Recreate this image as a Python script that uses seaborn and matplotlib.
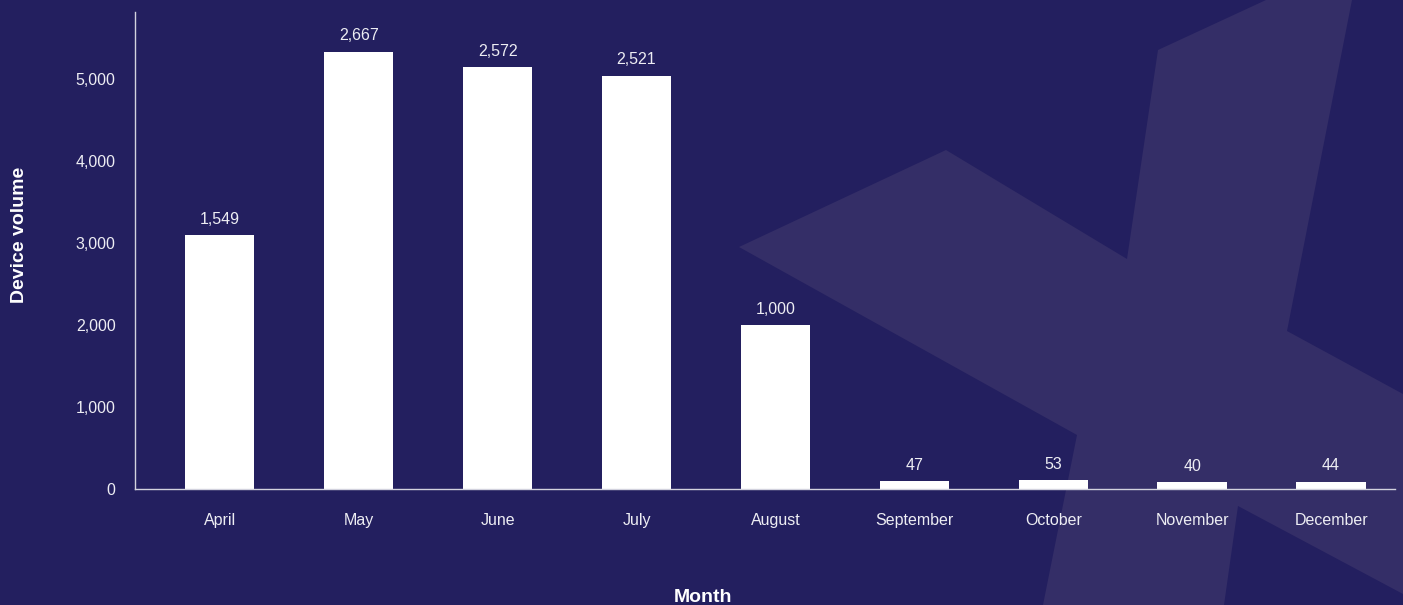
import matplotlib
matplotlib.use("Agg")
import matplotlib.pyplot as plt
from matplotlib.patches import Polygon
import seaborn as sns
import pandas as pd

# data
months = ["April", "May", "June", "July", "August",
          "September", "October", "November", "December"]
bar_heights = [3098, 5334, 5144, 5042, 2000, 94, 106, 80, 88]
bar_labels = ["1,549", "2,667", "2,572", "2,521", "1,000", "47", "53", "40", "44"]
y_ticks = [0, 1000, 2000, 3000, 4000, 5000]

bg = "#231F5F"
text_col = "#EDEDF3"
spine_col = "#D2D2DE"

sns.set_theme(style="white")
plt.rcParams["font.family"] = ["Liberation Sans", "DejaVu Sans"]

df = pd.DataFrame({"Month": months, "Volume": bar_heights})

fig = plt.figure(figsize=(14.03, 6.05), dpi=100, facecolor=bg)

# decorative watermark behind the chart (pixel coords of the 1403x605 canvas)
W, H = 1403, 605
shape_px = [(739, 247), (946, 150), (1127, 259), (1158, 50), (1266, 0), (1352, 0),
            (1287, 331), (1403, 394), (1403, 594), (1238, 506), (1224, 605),
            (1043, 605), (1077, 435)]
shape = Polygon([(x / W, 1 - y / H) for x, y in shape_px], closed=True,
                transform=fig.transFigure, facecolor="#342E67", edgecolor="none", zorder=-5)
fig.patches.append(shape)

ax = fig.add_axes([135 / W, 1 - 489 / H, 1260 / W, 477 / H])
ax.set_facecolor("none")
ax.set_zorder(2)

sns.barplot(data=df, x="Month", y="Volume", color="white", saturation=1,
            width=0.5, edgecolor="none", ax=ax)

for i, (h, lab) in enumerate(zip(bar_heights, bar_labels)):
    ax.annotate(lab, (i, h), xytext=(0, 6), textcoords="offset points",
                ha="center", va="bottom", color=text_col, fontsize=11.5)

ax.set_xlim(-0.61, 8.46)
ax.set_ylim(0, 5820)
ax.set_yticks(y_ticks)
ax.set_yticklabels([f"{v:,}" for v in y_ticks])
ax.tick_params(axis="both", length=0, colors=text_col, labelsize=11.5)
ax.tick_params(axis="y", pad=14)
ax.tick_params(axis="x", pad=17)

for s in ["top", "right"]:
    ax.spines[s].set_visible(False)
for s in ["left", "bottom"]:
    ax.spines[s].set_color(spine_col)
    ax.spines[s].set_linewidth(1)

ax.set_xlabel("Month", color="white", fontsize=14, fontweight="bold")
ax.set_ylabel("Device volume", color="white", fontsize=14, fontweight="bold")
ax.xaxis.set_label_coords(0.451, -0.21)
ax.yaxis.set_label_coords(-0.085, 0.532)
ax.grid(False)

fig.savefig("out.png", dpi=100, facecolor=bg)
